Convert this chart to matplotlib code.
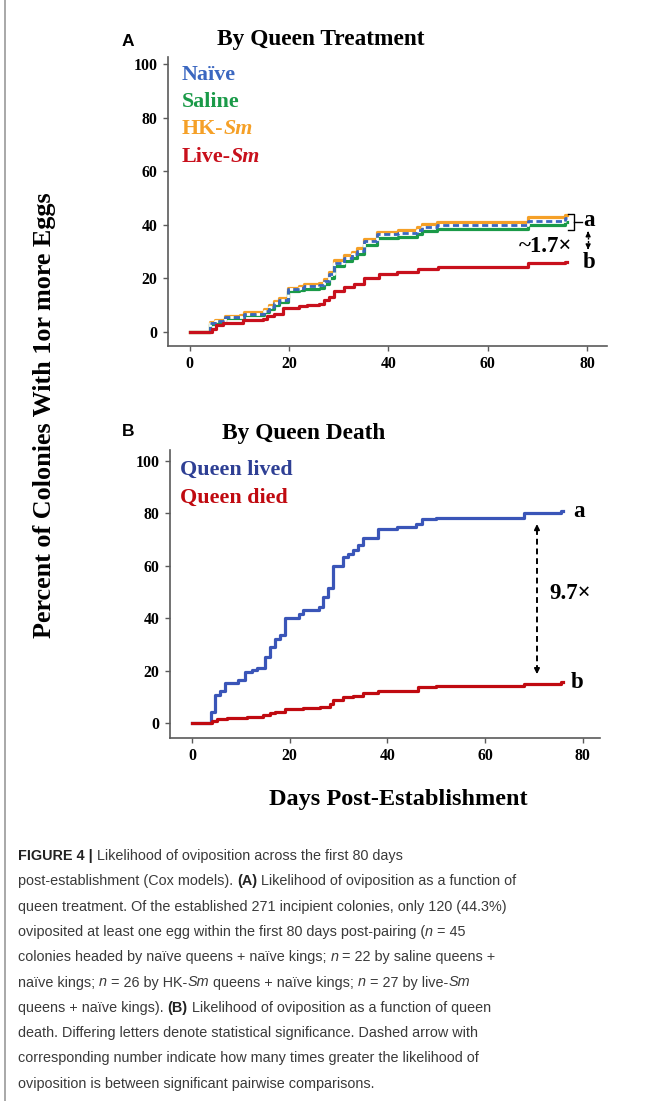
import matplotlib
matplotlib.use("Agg")
import matplotlib.pyplot as plt
from matplotlib import font_manager
from matplotlib.lines import Line2D

W, H = 654, 1101

# ---- data ----
# Panel A: by queen treatment (shared step times)
a_days = [0, 4, 5, 7, 10, 11, 15, 16, 17, 18, 19.8, 22, 23, 26, 27, 28, 29, 31,
          32.6, 33.6, 35, 37.6, 42, 45.7, 46.7, 49.7, 68, 75.6, 76]
naive = [0, 3.4, 4.2, 5.6, 5.8, 6.8, 8.0, 9.4, 10.8, 12.0, 16.0, 16.6, 17.2, 17.6,
         19.0, 21.5, 25.9, 27.8, 29.0, 30.2, 33.8, 36.6, 37.1, 38.2, 39.2, 39.9,
         41.6, 42.4, 42.4]
hk_sm = [0, 3.8, 4.6, 6.0, 6.3, 7.3, 8.5, 10.0, 11.5, 12.7, 16.6, 17.2, 17.8, 18.3,
         19.8, 22.4, 26.8, 28.8, 30.0, 31.3, 34.8, 37.4, 37.9, 39.2, 40.3, 41.2,
         42.8, 43.6, 43.6]
saline = [0, 2.9, 3.7, 5.1, 5.3, 6.2, 7.3, 8.6, 10.0, 11.2, 15.2, 15.7, 16.2, 16.6,
          17.9, 20.3, 24.7, 26.6, 27.8, 29.0, 32.4, 35.2, 35.6, 36.7, 37.7, 38.3,
          40.0, 40.9, 40.9]
live_days = [0, 4.5, 5.2, 6.7, 10.8, 12.4, 14.8, 15.5, 17, 18.8, 22, 23.5, 26, 27,
             28, 29, 31, 33, 35, 38, 41.7, 46, 50, 68, 75.6, 76]
live_sm = [0, 1.0, 2.5, 3.4, 4.4, 4.6, 5.0, 5.9, 6.9, 9.1, 9.6, 10.0, 10.6, 11.8,
           13.0, 15.3, 16.8, 18.0, 20.3, 21.8, 22.4, 23.7, 24.3, 25.6, 26.2, 26.2]

# Panel B: by queen death
lived_days = [0, 3.9, 4.8, 5.8, 6.8, 9.5, 10.9, 12.3, 13.3, 15, 16, 17, 18, 19.1,
              21.8, 22.8, 25.9, 26.9, 27.9, 28.9, 31, 32, 33, 34, 35, 38.1, 41.9,
              45.9, 47, 50, 68, 75.6, 76]
lived = [0, 4.4, 10.8, 12.1, 15.2, 16.5, 19.4, 20.3, 20.9, 25.4, 28.9, 32.0, 33.6,
         40.0, 41.6, 43.1, 44.4, 48.0, 51.6, 59.9, 63.5, 64.5, 66.2, 67.9, 70.7,
         74.2, 74.9, 76.1, 77.7, 78.3, 80.0, 81.0, 81.0]
died_days = [0, 4, 5.1, 7.1, 11.2, 14.6, 16, 17, 19.1, 22.8, 26.2, 28.2, 28.9, 31,
             33, 35, 38.1, 46.3, 50, 68, 75.6, 76]
died = [0, 0.9, 1.5, 1.9, 2.5, 3.2, 3.8, 4.4, 5.3, 5.7, 6.3, 7.4, 8.9, 9.9, 10.5,
        11.4, 12.3, 13.7, 14.2, 15.0, 15.5, 15.5]

x_ticks = [0, 20, 40, 60, 80]
y_ticks = [0, 20, 40, 60, 80, 100]

caption = [
    [("FIGURE 4 |", "b"), (" Likelihood of oviposition across the first 80 days", "r")],
    [("post-establishment (Cox models). ", "r"), ("(A)", "b"),
     (" Likelihood of oviposition as a function of", "r")],
    [("queen treatment. Of the established 271 incipient colonies, only 120 (44.3%)", "r")],
    [("oviposited at least one egg within the first 80 days post-pairing (", "r"),
     ("n", "i"), (" = 45", "r")],
    [("colonies headed by naïve queens + naïve kings; ", "r"), ("n", "i"),
     (" = 22 by saline queens +", "r")],
    [("naïve kings; ", "r"), ("n", "i"), (" = 26 by HK-", "r"), ("Sm", "i"),
     (" queens + naïve kings; ", "r"), ("n", "i"), (" = 27 by live-", "r"), ("Sm", "i")],
    [("queens + naïve kings). ", "r"), ("(B)", "b"),
     (" Likelihood of oviposition as a function of queen", "r")],
    [("death. Differing letters denote statistical significance. Dashed arrow with", "r")],
    [("corresponding number indicate how many times greater the likelihood of", "r")],
    [("oviposition is between significant pairwise comparisons.", "r")],
]

SERIF = "Liberation Serif"
available = {f.name for f in font_manager.fontManager.ttflist}
CAP_FONT = "Liberation Sans Narrow" if "Liberation Sans Narrow" in available else "Liberation Sans"
CAP_SIZE = 12.4 if CAP_FONT == "Liberation Sans Narrow" else 10.4

fig = plt.figure(figsize=(W / 100, H / 100), dpi=100)
fig.patch.set_facecolor("white")
renderer = fig.canvas.get_renderer()


def fx(px):
    return px / W


def fy(py):
    return 1 - py / H


def text_width(s, **kw):
    t = fig.text(0, 0, s, **kw)
    w = t.get_window_extent(renderer).width
    t.remove()
    return w


def put_runs(x, y, runs, styles, base):
    """Draw text pieces one after another on one line (pixel coords)."""
    space = text_width("x x", **base) - text_width("xx", **base)
    for s, key in runs:
        kw = dict(base, **styles[key])
        if s.startswith(" "):
            x += space
        core = s.strip()
        t = fig.text(fx(x), fy(y), core, ha="left", va="baseline", **kw)
        x += t.get_window_extent(renderer).width
        if s.endswith(" ") and len(s.strip()) > 0:
            x += space


def style_axes(ax, xlim, ylim):
    ax.set_xlim(*xlim)
    ax.set_ylim(*ylim)
    for side in ("top", "right"):
        ax.spines[side].set_visible(False)
    for side in ("left", "bottom"):
        ax.spines[side].set_color("#5a5a5a")
        ax.spines[side].set_linewidth(1.2)
    ax.set_xticks(x_ticks)
    ax.set_yticks(y_ticks)
    ax.tick_params(direction="out", length=3.5, width=1.0, color="#5a5a5a",
                   labelsize=11.4, pad=4)
    for lab in ax.get_xticklabels() + ax.get_yticklabels():
        lab.set_fontfamily(SERIF)
        lab.set_fontweight("bold")


# ---- panel A ----
axA = fig.add_axes([fx(168), fy(346), fx(607 - 168), (346 - 57) / H])
style_axes(axA, (-4.4, 84), (-5.2, 102.6))
axA.step(a_days, hk_sm, where="post", color="#f5a027", lw=2.3)
axA.step(a_days, saline, where="post", color="#1a9a48", lw=2.3)
axA.step(a_days, naive, where="post", color="#3b67c0", lw=2.0,
         linestyle=(0, (2.2, 1.3)), gapcolor="white")
axA.step(live_days, live_sm, where="post", color="#c8101c", lw=2.3)

# bracket + letters
axA.plot([76.2, 77.3, 77.3, 76.2], [43.9, 43.9, 38.2, 38.2], color="black", lw=1.0,
         clip_on=False)
axA.plot([77.3, 79.0], [41.1, 41.1], color="black", lw=1.0, clip_on=False)
axA.text(80.4, 41.5, "a", fontfamily=SERIF, fontweight="bold", fontsize=16.5,
         ha="center", va="center")
axA.text(80.4, 25.8, "b", fontfamily=SERIF, fontweight="bold", fontsize=16.5,
         ha="center", va="center")
axA.text(71.6, 31.8, "~1.7×", fontfamily=SERIF, fontweight="bold", fontsize=16.5,
         ha="center", va="center")
axA.plot([80.2, 80.2], [32.0, 36.5], color="black", lw=1.0, linestyle=(0, (1.5, 1)),
         clip_on=False)
axA.annotate("", xy=(80.2, 38.6), xytext=(80.2, 36.0),
             arrowprops=dict(arrowstyle="-|>", color="black", lw=1.0, mutation_scale=7),
             annotation_clip=False)
axA.annotate("", xy=(80.2, 29.8), xytext=(80.2, 32.4),
             arrowprops=dict(arrowstyle="-|>", color="black", lw=1.0, mutation_scale=7),
             annotation_clip=False)

# ---- panel B ----
axB = fig.add_axes([fx(170), fy(738), fx(600 - 170), (738 - 450) / H])
style_axes(axB, (-4.5, 83.5), (-5.7, 104.2))
axB.step(lived_days, lived, where="post", color="#3a55b8", lw=2.3)
axB.step(died_days, died, where="post", color="#c00a10", lw=2.3)
axB.text(79.3, 80.8, "a", fontfamily=SERIF, fontweight="bold", fontsize=16.5,
         ha="center", va="center")
axB.text(78.8, 15.4, "b", fontfamily=SERIF, fontweight="bold", fontsize=16.5,
         ha="center", va="center")
axB.text(77.3, 49.5, "9.7×", fontfamily=SERIF, fontweight="bold", fontsize=16.5,
         ha="center", va="center")
axB.plot([70.6, 70.6], [20.0, 74.6], color="black", lw=1.4, linestyle=(0, (3, 2)))
axB.annotate("", xy=(70.6, 77.0), xytext=(70.6, 73.0),
             arrowprops=dict(arrowstyle="-|>", color="black", lw=1.2, mutation_scale=8))
axB.annotate("", xy=(70.6, 17.6), xytext=(70.6, 21.6),
             arrowprops=dict(arrowstyle="-|>", color="black", lw=1.2, mutation_scale=8))

# ---- titles, panel letters, legends ----
serif_b = dict(fontfamily=SERIF, fontweight="bold")
fig.text(fx(217), fy(45), "By Queen Treatment", fontsize=16.8, ha="left",
         va="baseline", **serif_b)
fig.text(fx(222), fy(439), "By Queen Death", fontsize=16.8, ha="left",
         va="baseline", **serif_b)
fig.text(fx(122), fy(46), "A", fontfamily="Liberation Sans", fontweight="bold",
         fontsize=12.5, ha="left", va="baseline")
fig.text(fx(122), fy(436), "B", fontfamily="Liberation Sans", fontweight="bold",
         fontsize=12.5, ha="left", va="baseline")

leg_base = dict(fontfamily=SERIF, fontweight="bold", fontsize=15.8)
leg_styles = {"r": {}, "i": {"fontstyle": "italic"}}
put_runs(182, 80, [("Naïve", "r")], leg_styles, dict(leg_base, color="#3b67c0"))
put_runs(182, 107, [("Saline", "r")], leg_styles, dict(leg_base, color="#1a9a48"))
put_runs(182, 134, [("HK-", "r"), ("Sm", "i")], leg_styles, dict(leg_base, color="#f5a027"))
put_runs(182, 162, [("Live-", "r"), ("Sm", "i")], leg_styles, dict(leg_base, color="#c8101c"))
put_runs(180, 475, [("Queen lived", "r")], leg_styles, dict(leg_base, color="#2e3f94"))
put_runs(180, 503, [("Queen died", "r")], leg_styles, dict(leg_base, color="#c00a10"))

# shared axis labels
fig.text(fx(45), fy(415), "Percent of Colonies With 1or more Eggs", rotation=90,
         fontsize=18.8, ha="center", va="center", **serif_b)
fig.text(fx(398), fy(800), "Days Post-Establishment", fontsize=17.5, ha="center",
         va="center", **serif_b)

# ---- caption ----
cap_base = dict(fontfamily=CAP_FONT, fontsize=CAP_SIZE, color="#3a3a3a")
cap_styles = {"r": {}, "b": {"fontweight": "bold", "color": "#222222"},
              "i": {"fontstyle": "italic"}}
for i, runs in enumerate(caption):
    put_runs(18, 860 + i * 25.3, runs, cap_styles, cap_base)

# left border rule
fig.add_artist(Line2D([fx(5), fx(5)], [0, 1], color="#9a9a9a", lw=1.2))

fig.savefig("out.png", dpi=100)
